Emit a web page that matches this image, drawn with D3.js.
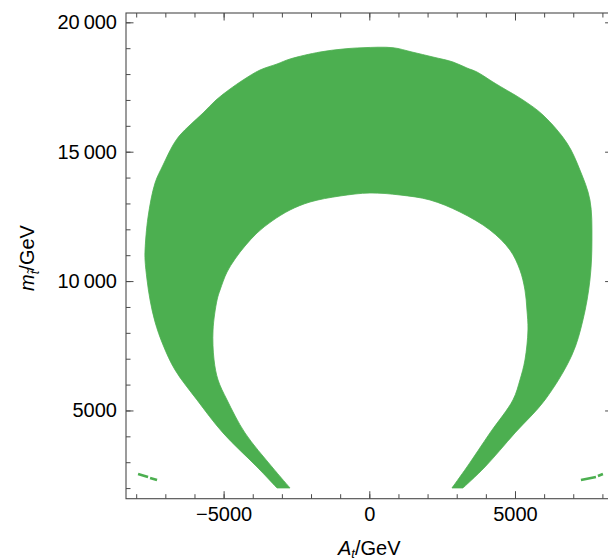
<!DOCTYPE html>
<html>
<head>
<meta charset="utf-8">
<script src="https://cdn.jsdelivr.net/npm/d3@7"></script>
<style>
body { margin: 0; background: #fff; }
svg { display: block; font-family: "Liberation Sans", Arial, sans-serif; }
</style>
</head>
<body>
<div id="chart"></div>
<script>
// allowed region, outer edge: bottom-left -> top -> bottom-right  [A_t, m_stop]
var outerEdge = [
  [-3167, 2005], [-3853, 2817], [-5020, 4131], [-5912, 5406], [-6666, 6565],
  [-7078, 7531], [-7353, 8420], [-7524, 9270], [-7627, 10042], [-7696, 10815],
  [-7696, 11202], [-7593, 12477], [-7353, 13791], [-7078, 14486], [-6735, 15259],
  [-6495, 15645], [-6152, 16032], [-5706, 16495], [-5260, 16998], [-4779, 17423],
  [-4333, 17770], [-3750, 18157], [-3167, 18389], [-2721, 18582], [-1691, 18852],
  [-902, 18968], [-216, 19019], [813, 19019], [1465, 18852], [2186, 18659],
  [2872, 18466], [3352, 18234], [3695, 18080], [4244, 17693], [4587, 17461],
  [5273, 16998], [5960, 16418], [6783, 15336], [7229, 14293], [7572, 13134],
  [7641, 11588], [7572, 10042], [7332, 8497], [6955, 7144], [6028, 5406],
  [4999, 4131], [3970, 2817], [3215, 2005]
];
// inner edge: bottom-right -> top -> bottom-left
var innerEdge = [
  [2837, 2005], [3352, 2817], [4141, 4131], [4930, 5406], [5170, 6178],
  [5342, 6951], [5445, 8110], [5411, 8883], [5342, 9656], [5170, 10429],
  [4827, 11202], [4141, 11974], [3112, 12670], [2083, 13134], [1053, 13327],
  [24, 13404], [-1005, 13288], [-2035, 13056], [-2721, 12747], [-3338, 12322],
  [-3853, 11859], [-4265, 11356], [-4608, 10854], [-4882, 10352], [-5122, 9656],
  [-5225, 9270], [-5363, 8110], [-5328, 6951], [-5191, 6178], [-4882, 5406],
  [-4265, 4131], [-3338, 2817], [-2721, 2005]
];
// small isolated pieces near the bottom corners
var dashes = [
  [[-7936, 2546], [-7593, 2430]],
  [[-7524, 2391], [-7284, 2314]],
  [[7263, 2314], [7778, 2430]],
  [[7847, 2469], [8018, 2546]]
];

var xMajor = [-5000, 0, 5000];
var xMinor = d3.range(-8000, 8001, 1000);
var yMajor = [5000, 10000, 15000, 20000];
var yMinor = d3.range(2000, 20001, 1000);

var width = 608, height = 560;
var plot = {left: 126, right: 612.6, top: 13, bottom: 498.7};
var green = '#4caf50', frameColor = '#4a4a4a';

var x = d3.scaleLinear().domain([-8350, 8350]).range([plot.left, plot.right]);
var y = d3.scaleLinear().domain([1590, 20360]).range([plot.bottom, plot.top]);

var svg = d3.select('#chart').append('svg')
  .attr('width', width)
  .attr('height', height);

var line = d3.line()
  .x(function(d) { return x(d[0]); })
  .y(function(d) { return y(d[1]); });
var smooth = d3.line()
  .x(function(d) { return x(d[0]); })
  .y(function(d) { return y(d[1]); })
  .curve(d3.curveCatmullRom.alpha(0.5));

// the crescent: smooth edges, sharp corners where they meet at the bottom
svg.append('path')
  .attr('d', smooth(outerEdge) + 'L' + smooth(innerEdge).slice(1) + 'Z')
  .attr('fill', green)
  .attr('stroke', green)
  .attr('stroke-width', 0.8);

svg.selectAll('.dash')
  .data(dashes)
  .enter().append('path')
  .attr('class', 'dash')
  .attr('d', line)
  .attr('stroke', green)
  .attr('stroke-width', 2.6)
  .attr('fill', 'none');

// thousands with a thin space, like the original
function fmtY(v) {
  return v >= 10000 ? d3.format('d')(Math.floor(v / 1000)) + '\u2009' + '000' : String(v);
}
function fmtX(v) { return v < 0 ? '\u2212' + Math.abs(v) : String(v); }

function styleAxis(g) {
  g.select('.domain').remove();
  g.selectAll('line').attr('stroke', frameColor);
  g.selectAll('text').attr('fill', '#000').style('font-size', '20px');
}

// bottom
svg.append('g').attr('transform', 'translate(0,' + plot.bottom + ')')
  .call(d3.axisBottom(x).tickValues(xMinor).tickSize(-4.5).tickFormat(''))
  .call(styleAxis);
svg.append('g').attr('transform', 'translate(0,' + plot.bottom + ')')
  .call(d3.axisBottom(x).tickValues(xMajor).tickSize(-7.5).tickPadding(8).tickFormat(fmtX))
  .call(styleAxis);
// top
svg.append('g').attr('transform', 'translate(0,' + plot.top + ')')
  .call(d3.axisTop(x).tickValues(xMinor).tickSize(-4.5).tickFormat(''))
  .call(styleAxis);
svg.append('g').attr('transform', 'translate(0,' + plot.top + ')')
  .call(d3.axisTop(x).tickValues(xMajor).tickSize(-7.5).tickFormat(''))
  .call(styleAxis);
// left
svg.append('g').attr('transform', 'translate(' + plot.left + ',0)')
  .call(d3.axisLeft(y).tickValues(yMinor).tickSize(-4.5).tickFormat(''))
  .call(styleAxis);
svg.append('g').attr('transform', 'translate(' + plot.left + ',0)')
  .call(d3.axisLeft(y).tickValues(yMajor).tickSize(-7.5).tickPadding(9).tickFormat(fmtY))
  .call(styleAxis);
// right
svg.append('g').attr('transform', 'translate(' + plot.right + ',0)')
  .call(d3.axisRight(y).tickValues(yMinor).tickSize(-4.5).tickFormat(''))
  .call(styleAxis);
svg.append('g').attr('transform', 'translate(' + plot.right + ',0)')
  .call(d3.axisRight(y).tickValues(yMajor).tickSize(-7.5).tickFormat(''))
  .call(styleAxis);

// frame
svg.append('rect')
  .attr('x', plot.left).attr('y', plot.top)
  .attr('width', plot.right - plot.left).attr('height', plot.bottom - plot.top)
  .attr('fill', 'none')
  .attr('stroke', frameColor)
  .attr('stroke-width', 1.1);

// axis labels
var xl = svg.append('text')
  .attr('x', x(0)).attr('y', 555)
  .attr('text-anchor', 'middle')
  .style('font-size', '20px');
xl.append('tspan').attr('font-style', 'italic').text('A');
xl.append('tspan').attr('font-style', 'italic').attr('dy', 3).style('font-size', '13px').text('t');
xl.append('tspan').attr('dy', -3).text('/GeV');

var yl = svg.append('text')
  .attr('transform', 'translate(34,' + 258 + ') rotate(-90)')
  .attr('text-anchor', 'middle')
  .style('font-size', '20px');
yl.append('tspan').attr('font-style', 'italic').text('m');
yl.append('tspan').attr('font-style', 'italic').attr('dy', 5).style('font-size', '13px').text('t\u0303');
yl.append('tspan').attr('dy', -5).text('/GeV');
</script>
</body>
</html>
